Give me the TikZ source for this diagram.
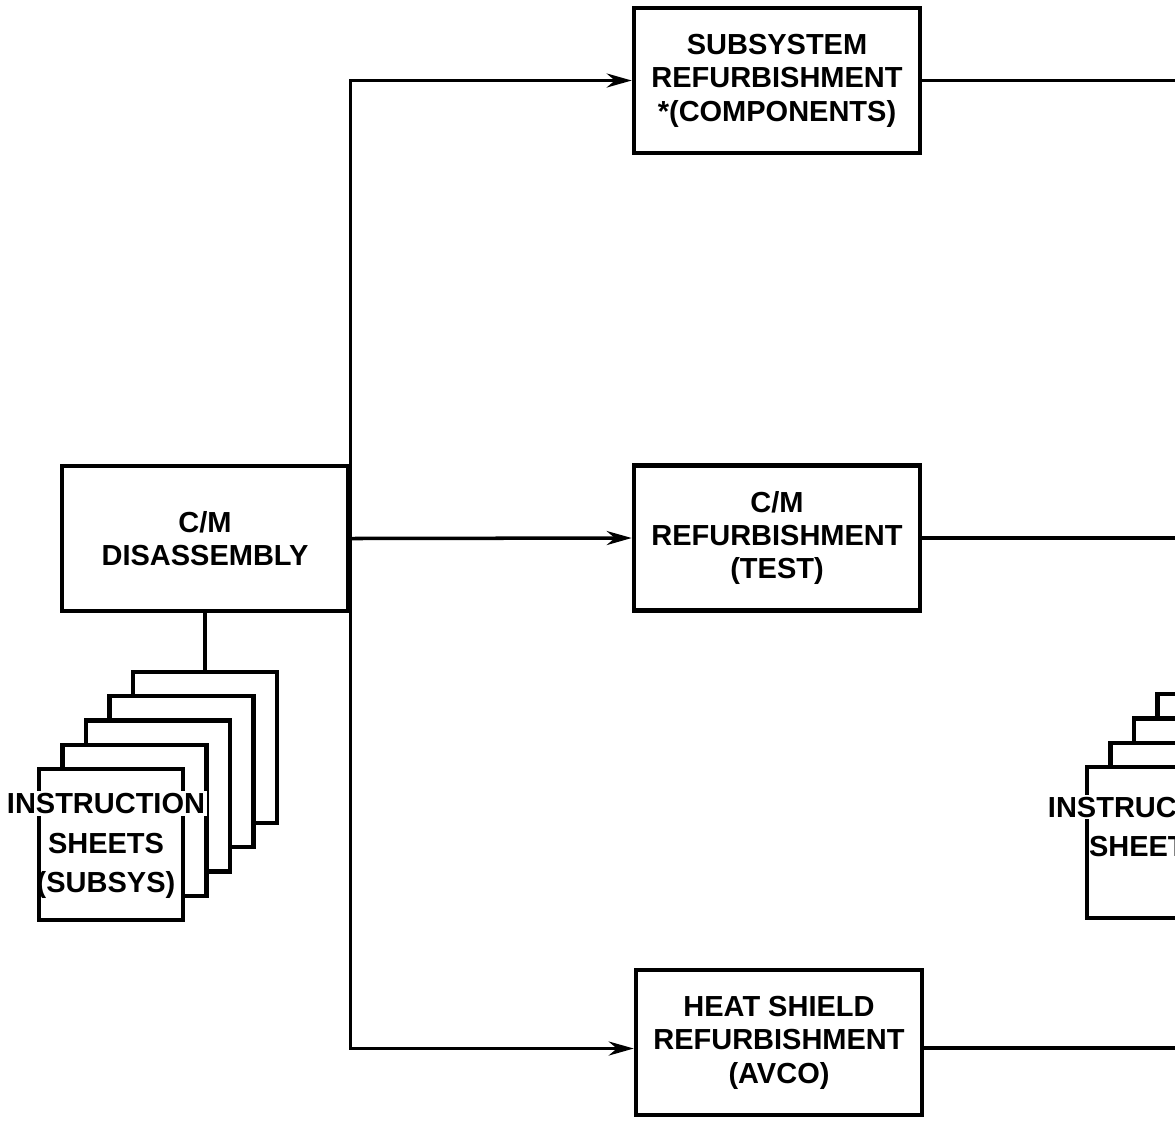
\documentclass[tikz,border=0pt]{standalone}
\usepackage{fontspec}
\setmainfont{Liberation Sans}
\usetikzlibrary{arrows.meta}

\begin{document}
\begin{tikzpicture}[x=0.02cm, y=-0.02cm,
  box/.style={draw, line width=2.6pt, fill=white, minimum width=5.72cm, minimum height=2.9cm,
    align=center, font=\bfseries\fontsize{16.5}{19}\selectfont},
  sheet/.style={draw, line width=2.4pt, fill=white, minimum width=2.88cm, minimum height=3.02cm},
  sheettext/.style={align=center, font=\bfseries\fontsize{16.5}{22.5}\selectfont},
  flow/.style={line width=2pt, -{Stealth[length=5mm,width=2.8mm]}},
  link/.style={line width=2pt}]
\useasboundingbox (0,0) rectangle (1175,1120);
\clip (0,0) rectangle (1175,1120);

\node[box] (n1) at (205,538.5) {C/M\\DISASSEMBLY};
\node[box] (n2) at (777,80.5) {SUBSYSTEM\\REFURBISHMENT\\*(COMPONENTS)};
\node[box] (n3) at (777,538) {C/M\\REFURBISHMENT\\(TEST)};
\node[box] (n4) at (779,1042.5) {HEAT SHIELD\\REFURBISHMENT\\(AVCO)};

% stack of sheets under the disassembly box, back one first
\foreach \i in {4,3,2,1,0}
  \node[sheet] (s\i) at ({111+23.5*\i},{844.5-24.3*\i}) {};
\node[sheettext] (t1) at (106,845) {{\setlength\fboxsep{1pt}\colorbox{white}{INSTRUCTION}}\\SHEETS\\(SUBSYS)};

% second stack, cut off at the right edge
\foreach \i in {3,2,1,0}
  \node[sheet] (r\i) at ({1159+23.5*\i},{842.5-24.3*\i}) {};
\node[sheettext] (t2) at (1147,826) {{\setlength\fboxsep{1pt}\colorbox{white}{INSTRUCTION}}\\SHEETS};

\coordinate (j) at (n1.east);
\coordinate (e2) at (1200,80.5);
\coordinate (e3) at (1200,538);
\coordinate (e4) at (1200,1048);

\draw[flow] (j) |- (n2.west);
\draw[flow] (j) -- (n3.west);
\draw[flow] (j) |- ([yshift=-0.12cm]n4.west);
\draw[link] (n1) -- (s4);
\draw[link] (n2.east) -- (e2);
\draw[link] (n3.east) -- (e3);
\draw[link] (n4.east |- e4) -- (e4);
\end{tikzpicture}
\end{document}
